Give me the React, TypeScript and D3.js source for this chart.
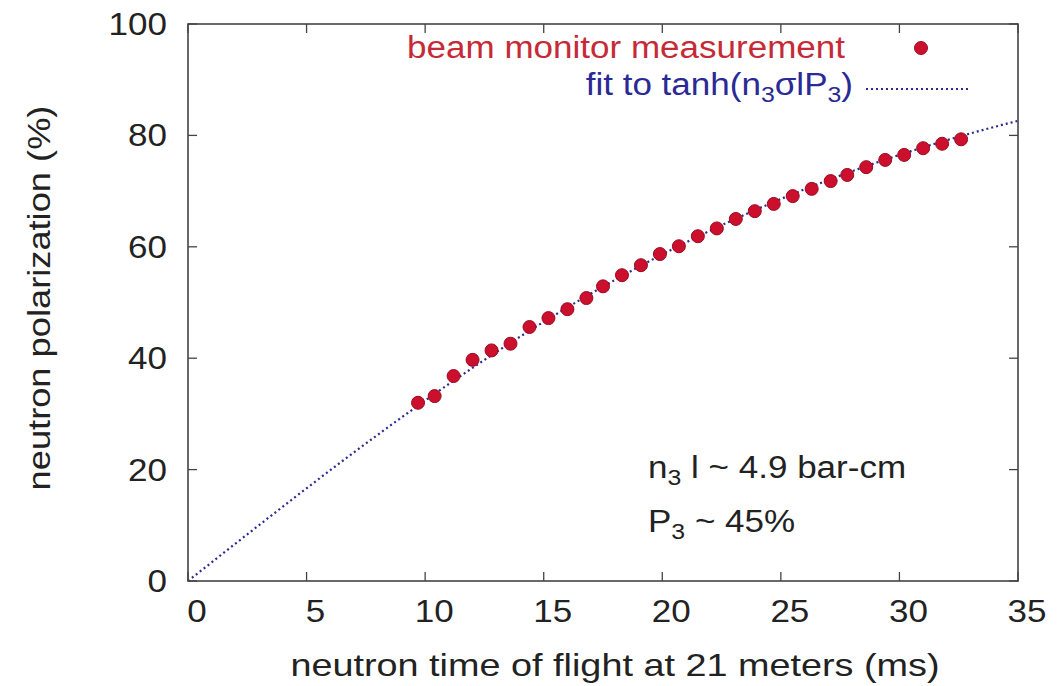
import React from "react";
import * as d3 from "d3";

const X_TICKS = [0, 5, 10, 15, 20, 25, 30, 35];
const Y_TICKS = [0, 20, 40, 60, 80, 100];

const TOF_MS = [9.7, 10.4, 11.2, 12.0, 12.8, 13.6, 14.4, 15.2, 16.0, 16.8, 17.5, 18.3, 19.1, 19.9, 20.7, 21.5, 22.3, 23.1, 23.9, 24.7, 25.5, 26.3, 27.1, 27.8, 28.6, 29.4, 30.2, 31.0, 31.8, 32.6];
const POLARIZATION = [32.0, 33.2, 36.8, 39.7, 41.4, 42.6, 45.6, 47.2, 48.8, 50.8, 52.9, 54.9, 56.7, 58.7, 60.1, 61.9, 63.3, 65.0, 66.4, 67.7, 69.1, 70.4, 71.8, 72.9, 74.3, 75.6, 76.5, 77.7, 78.5, 79.3];

// fitted parameter of P = 100 * tanh(k * t)
const FIT_K = 0.0336;
const FIT_T = d3.range(0, 35.001, 0.25);

const W = 1059;
const H = 686;
const M = { left: 188, right: 1018, top: 24, bottom: 581 };
const FONT = "'Liberation Sans', Arial, Helvetica, sans-serif";
const SX = 1.13;
const FS = 31;

function Txt({ x, y, anchor = "start", fill = "#222", size = FS, rotate = 0, sx = SX, children }: any) {
  const tr = rotate
    ? `translate(${x},${y}) rotate(${rotate}) scale(${sx},1)`
    : `translate(${x},${y}) scale(${sx},1)`;
  return (
    <text transform={tr} textAnchor={anchor} fill={fill} fontSize={size} fontFamily={FONT}>
      {children}
    </text>
  );
}

export default function App() {
  const x = d3.scaleLinear().domain([0, 35]).range([M.left, M.right]);
  const y = d3.scaleLinear().domain([0, 100]).range([M.bottom, M.top]);
  const line = d3
    .line<number>()
    .x((t) => x(t))
    .y((t) => y(100 * Math.tanh(FIT_K * t)));
  const tick = 9;
  const axisColor = "#444";
  const red = "#cc0f2c";
  const blue = "#2a2a96";
  const sub = { fontSize: 22 };

  return (
    <svg width={W} height={H} style={{ position: "absolute", left: 0, top: 0, background: "#fff" }}>
      <defs>
        <clipPath id="plotclip">
          <rect x={M.left} y={M.top} width={M.right - M.left} height={M.bottom - M.top} />
        </clipPath>
      </defs>
      {/* ticks */}
      {X_TICKS.map((t) => (
        <g key={"xt" + t} stroke={axisColor} strokeWidth={1.3}>
          <line x1={x(t)} x2={x(t)} y1={M.bottom} y2={M.bottom - tick} />
          <line x1={x(t)} x2={x(t)} y1={M.top} y2={M.top + tick} />
        </g>
      ))}
      {Y_TICKS.map((v) => (
        <g key={"yt" + v} stroke={axisColor} strokeWidth={1.3}>
          <line x1={M.left} x2={M.left + tick} y1={y(v)} y2={y(v)} />
          <line x1={M.right} x2={M.right - tick} y1={y(v)} y2={y(v)} />
        </g>
      ))}
      {/* fit line */}
      <path
        d={line(FIT_T) || ""}
        fill="none"
        stroke={blue}
        strokeWidth={2.2}
        strokeDasharray="2,3"
        clipPath="url(#plotclip)"
      />
      {/* data points */}
      {TOF_MS.map((t, i) => (
        <circle key={i} cx={x(t)} cy={y(POLARIZATION[i])} r={6.5} fill={red} stroke="#9a0a22" strokeWidth={1} />
      ))}
      {/* frame */}
      <rect
        x={M.left}
        y={M.top}
        width={M.right - M.left}
        height={M.bottom - M.top}
        fill="none"
        stroke={axisColor}
        strokeWidth={1.6}
      />
      {/* tick labels */}
      {X_TICKS.map((t) => (
        <Txt key={"xl" + t} x={x(t) + 9} y={622} anchor="middle">
          {t}
        </Txt>
      ))}
      {Y_TICKS.map((v) => (
        <Txt key={"yl" + v} x={167} y={y(v) + 11} anchor="end">
          {v}
        </Txt>
      ))}
      {/* axis titles */}
      <Txt x={615} y={676} anchor="middle" sx={1.22}>neutron time of flight at 21 meters (ms)</Txt>
      <Txt x={50} y={298} anchor="middle" rotate={-90} sx={1.17}>neutron polarization (%)</Txt>
      {/* legend */}
      <Txt x={845} y={58} anchor="end" fill="#c62a36">beam monitor measurement</Txt>
      <circle cx={921} cy={48} r={6.5} fill={red} stroke="#9a0a22" strokeWidth={1} />
      <Txt x={853} y={95} anchor="end" fill={blue}>
        fit to tanh(n<tspan dy={7} style={sub}>3</tspan>
        <tspan dy={-7}>σlP</tspan>
        <tspan dy={7} style={sub}>3</tspan>
        <tspan dy={-7}>)</tspan>
      </Txt>
      <line x1={866} x2={970} y1={89} y2={89} stroke={blue} strokeWidth={2.2} strokeDasharray="2,3" />
      {/* annotations */}
      <Txt x={648} y={478}>
        n<tspan dy={7} style={sub}>3</tspan>
        <tspan dy={-7}> l ~ 4.9 bar-cm</tspan>
      </Txt>
      <Txt x={648} y={532}>
        P<tspan dy={7} style={sub}>3</tspan>
        <tspan dy={-7}> ~ 45%</tspan>
      </Txt>
    </svg>
  );
}
